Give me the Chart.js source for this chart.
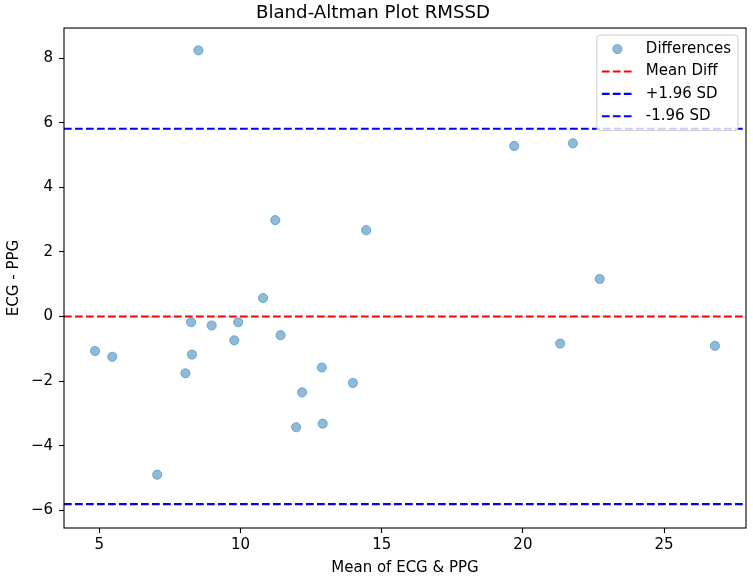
<!DOCTYPE html>
<html lang="en">
<head>
    <meta charset="UTF-8">
    <title>Bland-Altman Plot RMSSD</title>
    <script src="https://cdn.jsdelivr.net/npm/chart.js@4.4.0/dist/chart.umd.min.js"></script>
    <style>
        body { margin: 0; background: #fff; }
    </style>
</head>
<body>
    <canvas id="canvas" width="753" height="577"></canvas>
    <script>
        // mean of ECG & PPG (x) and difference ECG - PPG (y)
        const means = [8.51, 11.23, 14.45, 10.80, 4.85, 5.46, 8.25, 8.98, 9.92, 9.78, 8.28, 8.05,
                       11.42, 12.88, 13.98, 12.18, 11.97, 12.91, 7.05, 19.69, 21.77, 22.72, 21.32, 26.80];
        const diffs = [8.24, 2.98, 2.67, 0.57, -1.07, -1.25, -0.18, -0.28, -0.18, -0.74, -1.18, -1.76,
                       -0.58, -1.58, -2.06, -2.35, -3.43, -3.32, -4.90, 5.28, 5.36, 1.16, -0.84, -0.91];
        const meanDiff = 0.0;
        const upperLoA = 5.81;
        const lowerLoA = -5.81;

        const xTicks = [5, 10, 15, 20, 25];
        const yTicks = [-6, -4, -2, 0, 2, 4, 6, 8];
        const xRange = [3.75, 27.9];
        const yRange = [-6.55, 8.93];

        const pointColor = 'rgba(31, 119, 180, 0.5)';
        const dash = [7.7, 3.3];

        Chart.defaults.font.family = '"DejaVu Sans", sans-serif';
        Chart.defaults.color = '#000';

        function hline(label, y, color) {
            return {
                type: 'line',
                label: label,
                data: [{ x: xRange[0], y: y }, { x: xRange[1], y: y }],
                borderColor: color,
                borderWidth: 2.08,
                borderDash: dash,
                pointRadius: 0,
                showLine: true,
                fill: false,
                order: 0
            };
        }

        // frame on all four sides, like matplotlib spines
        const frame = {
            id: 'frame',
            afterDraw(chart) {
                const { ctx, chartArea: a } = chart;
                ctx.save();
                ctx.strokeStyle = '#000';
                ctx.lineWidth = 1.1;
                ctx.strokeRect(a.left, a.top, a.right - a.left, a.bottom - a.top);
                ctx.restore();
            }
        };

        // legend box inside the plot, upper right
        const boxLegend = {
            id: 'boxLegend',
            afterDraw(chart) {
                const { ctx, chartArea: a } = chart;
                const sets = chart.data.datasets;
                ctx.save();
                ctx.font = '15px "DejaVu Sans"';
                const textW = Math.max(...sets.map(d => ctx.measureText(d.label).width));
                const w = 5 + 31 + 13 + textW + 7;
                const rowH = 22.4;
                const h = rowH * sets.length + 6;
                const x0 = a.right - 8 - w;
                const y0 = a.top + 7;

                ctx.beginPath();
                if (ctx.roundRect) ctx.roundRect(x0, y0, w, h, 3);
                else ctx.rect(x0, y0, w, h);
                ctx.fillStyle = 'rgba(255,255,255,0.8)';
                ctx.fill();
                ctx.strokeStyle = '#cccccc';
                ctx.lineWidth = 1;
                ctx.stroke();

                sets.forEach((d, i) => {
                    const cy = y0 + 14 + i * rowH;
                    if (d.type === 'line') {
                        ctx.beginPath();
                        ctx.setLineDash(dash);
                        ctx.strokeStyle = d.borderColor;
                        ctx.lineWidth = d.borderWidth;
                        ctx.moveTo(x0 + 5, cy);
                        ctx.lineTo(x0 + 36, cy);
                        ctx.stroke();
                        ctx.setLineDash([]);
                    } else {
                        ctx.beginPath();
                        ctx.arc(x0 + 20.5, cy, d.pointRadius, 0, Math.PI * 2);
                        ctx.fillStyle = d.backgroundColor;
                        ctx.fill();
                        ctx.strokeStyle = d.borderColor;
                        ctx.lineWidth = d.borderWidth;
                        ctx.stroke();
                    }
                    ctx.fillStyle = '#000';
                    ctx.textBaseline = 'middle';
                    ctx.textAlign = 'left';
                    ctx.fillText(d.label, x0 + 49, cy);
                });
                ctx.restore();
            }
        };

        const ctx = document.getElementById('canvas').getContext('2d');
        const chart = new Chart(ctx, {
            type: 'scatter',
            data: {
                datasets: [
                    {
                        label: 'Differences',
                        data: means.map((m, i) => ({ x: m, y: diffs[i] })),
                        backgroundColor: pointColor,
                        borderColor: pointColor,
                        borderWidth: 1,
                        pointRadius: 4.6,
                        order: 1
                    },
                    hline('Mean Diff', meanDiff, '#ff0000'),
                    hline('+1.96 SD', upperLoA, '#0000ff'),
                    hline('-1.96 SD', lowerLoA, '#0000ff')
                ]
            },
            options: {
                responsive: false,
                animation: false,
                devicePixelRatio: 1,
                layout: { padding: { left: 0, right: 7, top: 0, bottom: 0 } },
                plugins: {
                    legend: { display: false },
                    tooltip: { enabled: false },
                    title: {
                        display: true,
                        text: 'Bland-Altman Plot RMSSD',
                        color: '#000',
                        font: { size: 18.2, weight: 'normal' },
                        padding: { top: 2.5, bottom: 3.7 }
                    }
                },
                scales: {
                    x: {
                        type: 'linear',
                        min: xRange[0],
                        max: xRange[1],
                        afterBuildTicks: axis => { axis.ticks = xTicks.map(v => ({ value: v })); },
                        afterFit: axis => { axis.height = 49; },
                        grid: { drawOnChartArea: false, tickLength: 5, tickColor: '#000', tickWidth: 1.1 },
                        border: { display: false },
                        ticks: { color: '#000', font: { size: 15 }, padding: 3, maxRotation: 0 },
                        title: { display: true, text: 'Mean of ECG & PPG', color: '#000', font: { size: 15 }, padding: { top: 0, bottom: 0 } }
                    },
                    y: {
                        type: 'linear',
                        min: yRange[0],
                        max: yRange[1],
                        afterBuildTicks: axis => { axis.ticks = yTicks.map(v => ({ value: v })); },
                        afterFit: axis => { axis.width = 64; },
                        grid: { drawOnChartArea: false, tickLength: 5, tickColor: '#000', tickWidth: 1.1 },
                        border: { display: false },
                        ticks: {
                            color: '#000', font: { size: 15 }, padding: 6,
                            callback: v => (v < 0 ? '\u2212' + Math.abs(v) : '' + v)
                        },
                        title: { display: true, text: 'ECG - PPG', color: '#000', font: { size: 15 }, padding: { top: 5, bottom: 0 } }
                    }
                }
            },
            plugins: [frame, boxLegend]
        });
    </script>
</body>
</html>
